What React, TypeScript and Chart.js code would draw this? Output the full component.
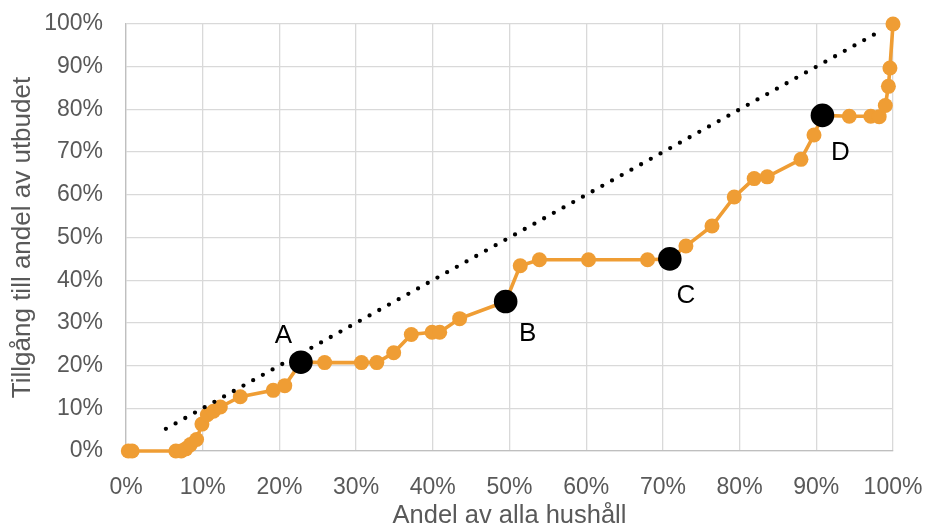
import React, { useEffect, useRef } from "react";
import { Chart, registerables } from "chart.js";

Chart.register(...registerables);

const curveX = [0.3, 0.8, 6.5, 7.2, 7.8, 8.4, 9.2, 9.9, 10.6, 11.4, 12.3, 14.9, 19.2, 20.7, 22.8, 25.9, 30.7, 32.7, 34.9, 37.2, 39.9, 40.9, 43.5, 49.5, 51.4, 53.9, 60.3, 68.0, 70.9, 73.0, 76.4, 79.3, 81.9, 83.6, 88.0, 89.7, 90.8, 94.3, 97.1, 98.2, 99.0, 99.4, 99.6, 100];
const curveY = [0, 0, 0, 0, 0.5, 1.5, 2.7, 6.3, 8.5, 9.3, 10.3, 12.7, 14.2, 15.3, 20.8, 20.7, 20.7, 20.7, 23.0, 27.3, 27.8, 27.8, 31.0, 35.0, 43.4, 44.8, 44.8, 44.8, 45.0, 48.0, 52.7, 59.5, 63.8, 64.2, 68.3, 74.0, 78.6, 78.4, 78.4, 78.3, 80.9, 85.4, 89.7, 100];

const markLabels = ["A", "B", "C", "D"];
const markX = [22.8, 49.5, 70.9, 90.8];
const markY = [20.8, 35.0, 45.0, 78.6];

const diagX = [5.2, 98.7];
const diagY = [5.2, 98.7];

const tickValues = [0, 10, 20, 30, 40, 50, 60, 70, 80, 90, 100];

const xTitle = "Andel av alla hushåll";
const yTitle = "Tillgång till andel av utbudet";

// pixel offsets for letter labels (style only)
const labelOffsets: [number, number][] = [
  [-17.5, -26.5],
  [22, 32],
  [16, 37],
  [18, 37.5],
];

const FONT = "'Liberation Sans', Arial, sans-serif";
const ORANGE = "#EF9D34";

export default function App() {
  const canvasRef = useRef<HTMLCanvasElement | null>(null);

  useEffect(() => {
    document.body.style.margin = "0";
    const canvas = canvasRef.current;
    if (!canvas) return;

    const labelPlugin = {
      id: "markLabels",
      afterDatasetsDraw(chart: any) {
        const ctx = chart.ctx;
        const xs = chart.scales.x;
        const ys = chart.scales.y;
        ctx.save();
        ctx.font = `26px ${FONT}`;
        ctx.fillStyle = "#000000";
        ctx.textAlign = "center";
        ctx.textBaseline = "middle";
        markLabels.forEach((lab, i) => {
          const px = xs.getPixelForValue(markX[i]) + labelOffsets[i][0];
          const py = ys.getPixelForValue(markY[i]) + labelOffsets[i][1];
          ctx.fillText(lab, px, py);
        });
        ctx.restore();
      },
    };

    const chart = new Chart(canvas, {
      type: "scatter",
      data: {
        datasets: [
          {
            label: "Markers",
            data: markX.map((x, i) => ({ x, y: markY[i] })),
            backgroundColor: "#000000",
            borderWidth: 0,
            pointRadius: 11.8,
            showLine: false,
            clip: false,
            order: 0,
          },
          {
            label: "Diagonal",
            data: diagX.map((x, i) => ({ x, y: diagY[i] })),
            borderColor: "#000000",
            borderWidth: 4.3,
            borderDash: [0, 11.1],
            borderCapStyle: "round",
            pointRadius: 0,
            showLine: true,
            clip: false,
            order: 1,
          },
          {
            label: "Curve",
            data: curveX.map((x, i) => ({ x, y: curveY[i] })),
            borderColor: ORANGE,
            backgroundColor: ORANGE,
            borderWidth: 3.6,
            pointRadius: 7.5,
            pointBorderWidth: 0,
            showLine: true,
            clip: false,
            order: 2,
          },
        ],
      },
      options: {
        animation: false,
        responsive: true,
        maintainAspectRatio: false,
        layout: { padding: { top: 24, right: 33, bottom: 0, left: 0 } },
        plugins: {
          legend: { display: false },
          tooltip: { enabled: false },
        },
        scales: {
          x: {
            type: "linear",
            min: 0,
            max: 100,
            afterBuildTicks: (scale: any) => {
              scale.ticks = tickValues.map((v) => ({ value: v }));
            },
            afterFit: (scale: any) => {
              scale.height = 76;
              scale.paddingLeft = 0;
              scale.paddingRight = 0;
            },
            ticks: {
              callback: (v: any) => `${v}%`,
              color: "#595959",
              font: { family: FONT, size: 23 },
              padding: 23,
              maxRotation: 0,
              autoSkip: false,
            },
            grid: { color: "#D9D9D9", lineWidth: 1.3, drawTicks: false },
            border: { color: "#BFBFBF", width: 1.3 },
            title: {
              display: true,
              text: xTitle,
              color: "#595959",
              font: { family: FONT, size: 25.5, lineHeight: 0.9 },
              padding: { top: 0, bottom: 0 },
            },
          },
          y: {
            type: "linear",
            min: 0,
            max: 100,
            afterBuildTicks: (scale: any) => {
              scale.ticks = tickValues.map((v) => ({ value: v }));
            },
            afterFit: (scale: any) => {
              scale.width = 126;
              scale.paddingTop = 0;
              scale.paddingBottom = 0;
            },
            ticks: {
              callback: (v: any) => `${v}%`,
              color: "#595959",
              font: { family: FONT, size: 23 },
              padding: 23,
              autoSkip: false,
            },
            grid: { color: "#D9D9D9", lineWidth: 1.3, drawTicks: false },
            border: { color: "#BFBFBF", width: 1.3 },
            title: {
              display: true,
              text: yTitle,
              color: "#595959",
              font: { family: FONT, size: 26, lineHeight: 1 },
              padding: { top: 9.5, bottom: 0 },
            },
          },
        },
      },
      plugins: [labelPlugin],
    } as any);

    return () => {
      chart.destroy();
    };
  }, []);

  return (
    <div style={{ width: 926, height: 527, position: "relative" }}>
      <canvas ref={canvasRef} />
    </div>
  );
}
